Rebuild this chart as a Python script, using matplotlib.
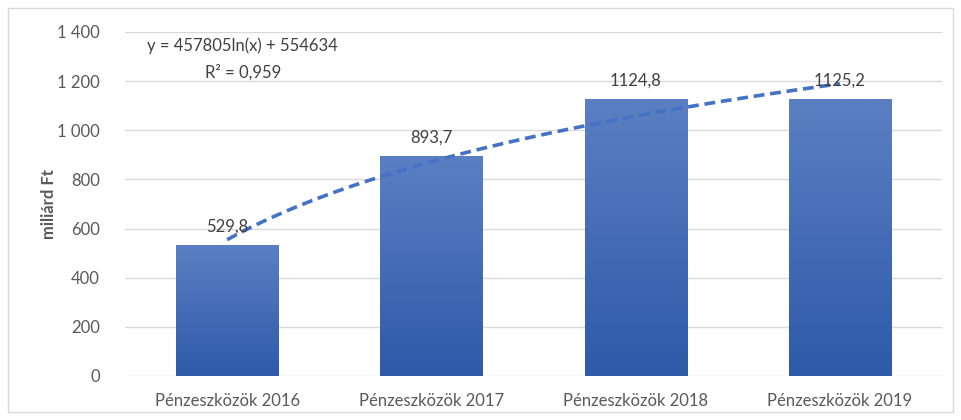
import numpy as np
import matplotlib.pyplot as plt
from matplotlib.patches import Rectangle
from matplotlib.colors import LinearSegmentedColormap
from matplotlib.ticker import FuncFormatter

plt.rcParams['font.family'] = ['Lato', 'DejaVu Sans']

# data
categories = ['Pénzeszközök 2016', 'Pénzeszközök 2017', 'Pénzeszközök 2018', 'Pénzeszközök 2019']
values = [529.8, 893.7, 1124.8, 1125.2]

# trend line shown on the chart (million Ft -> miliárd Ft)
trend_a = 457805
trend_b = 554634
trend_r2 = 0.959

fig = plt.figure(figsize=(9.61, 4.2), dpi=100)
ax = fig.add_axes([125/961, 1 - 376/420, 817/961, 344/420])

# outer frame
fig.patches.append(Rectangle((8/961, 8/420), 945/961, 404/420, transform=fig.transFigure,
                             fill=False, edgecolor='#d9d9d9', lw=1))

x = np.arange(len(categories))
width = 0.5
grad = LinearSegmentedColormap.from_list('g', ['#2e5aa9', '#5b7fc3'])
bars = ax.bar(x, values, width=width, color='none', zorder=2)
for b, v in zip(bars, values):
    ax.imshow(np.linspace(0, 1, 100).reshape(-1, 1), cmap=grad, origin='lower',
              extent=[b.get_x(), b.get_x() + width, 0, v], aspect='auto', zorder=2)
    ax.text(b.get_x() + width / 2, v + 45, f'{v:.1f}'.replace('.', ','),
            ha='center', va='bottom', fontsize=12, color='#404040', zorder=4)

# logarithmic trend line
xt = np.linspace(1, 4, 100)
yt = (trend_a * np.log(xt) + trend_b) / 1000
ax.plot(xt - 1, yt, color='#4472c4', lw=2.6, ls=(0, (3, 1.6)), zorder=3)

ax.text(0.144, 0.959, 'y = 457805ln(x) + 554634', transform=ax.transAxes,
        ha='center', va='center', fontsize=12, color='#404040')
ax.text(0.144, 0.881, 'R² = ' + f'{trend_r2}'.replace('.', ','), transform=ax.transAxes,
        ha='center', va='center', fontsize=12, color='#404040')

ax.set_xlim(-0.5, 3.5)
ax.set_ylim(0, 1400)
ax.set_yticks(range(0, 1401, 200))
ax.yaxis.set_major_formatter(FuncFormatter(lambda v, p: f'{int(v):,}'.replace(',', ' ')))
ax.set_xticks(x)
ax.set_xticklabels(categories)
ax.tick_params(length=0, labelsize=12, labelcolor='#595959')
ax.tick_params(axis='y', pad=18)
ax.tick_params(axis='x', pad=12)
ax.grid(axis='y', color='#d9d9d9', lw=1, zorder=0)
ax.set_axisbelow(True)
for s in ax.spines.values():
    s.set_visible(False)
ax.set_ylabel('miliárd Ft', fontsize=12, fontweight='bold', color='#595959', labelpad=0)

fig.savefig('out.png', dpi=100)
